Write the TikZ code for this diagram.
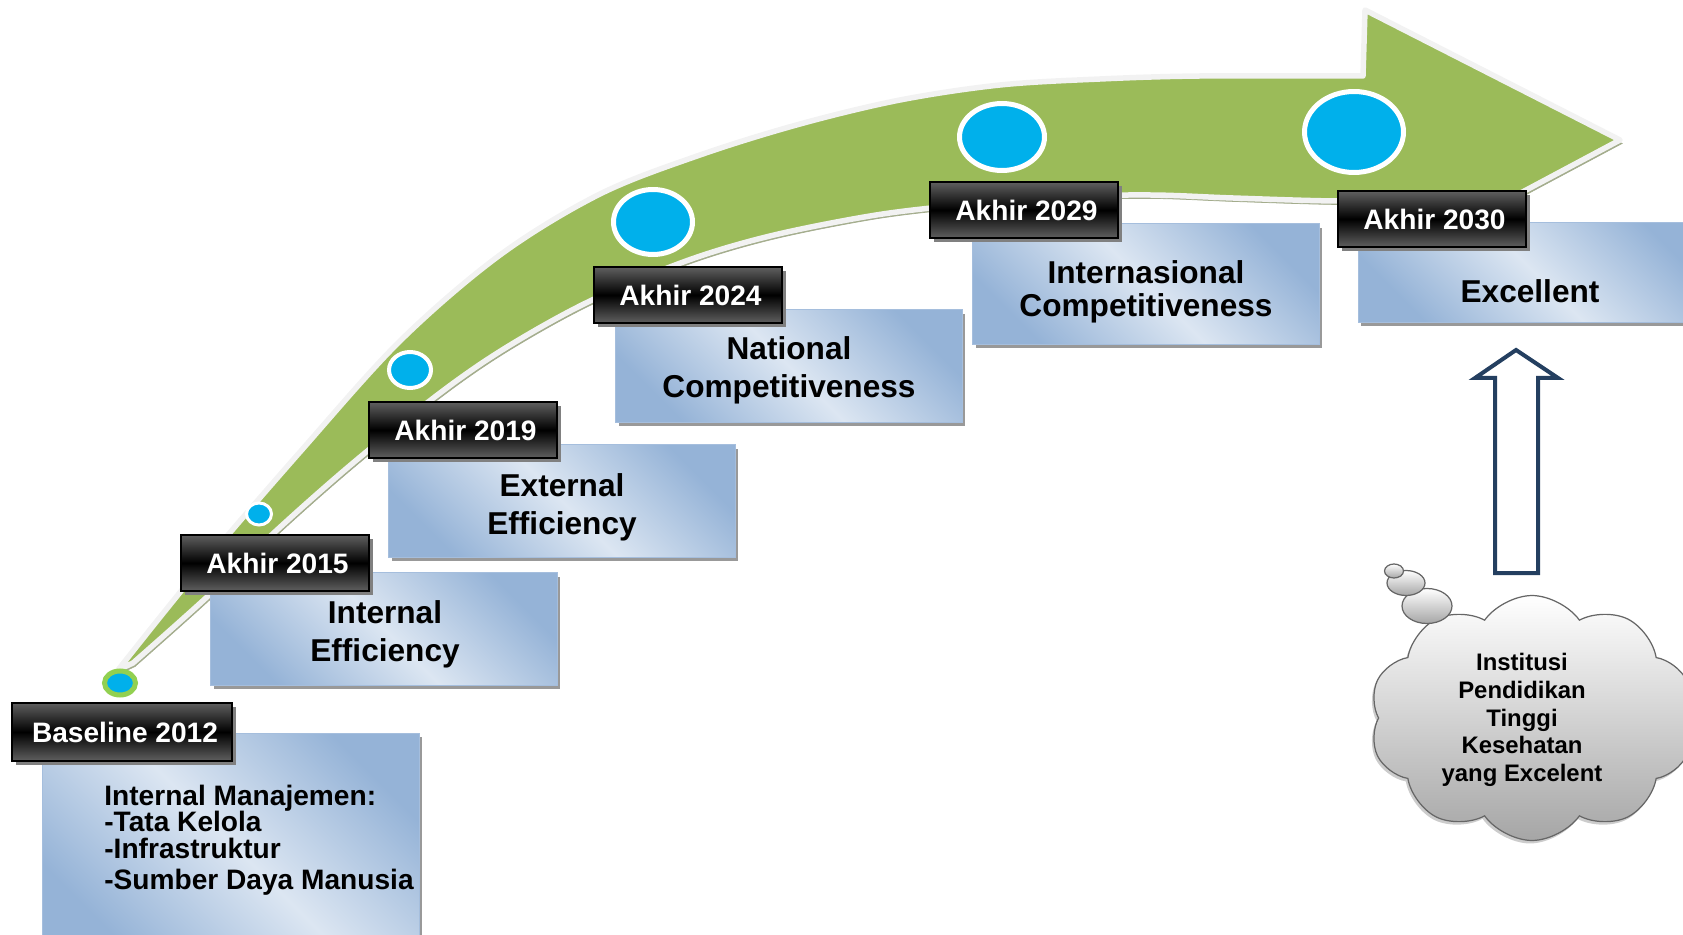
\documentclass[tikz,border=0pt]{standalone}
\usepackage{fontspec}
\setmainfont{Liberation Sans}
\usetikzlibrary{arrows.meta, positioning, shapes.geometric, shapes.symbols, shadows}

\definecolor{arrowgreen}{HTML}{9BBB59}
\definecolor{arrowrim}{HTML}{F2F2F2}
\definecolor{arrowshade}{HTML}{A3AC8C}
\definecolor{dotblue}{HTML}{00B0EB}
\definecolor{dotgreen}{HTML}{92D050}
\definecolor{boxblue}{HTML}{95B3D7}
\definecolor{boxlight}{HTML}{DCE6F2}
\definecolor{navyline}{HTML}{243F60}

\begin{document}
\begin{tikzpicture}
    [
        x=0.02cm, y=-0.02cm,
        bigarrow/.style = {
            fill=arrowgreen, draw=arrowrim, line width=0.11cm, line join=round,
            preaction={fill=arrowshade, draw=arrowshade, transform canvas={shift={(0.04cm,-0.07cm)}}}
        },
        milestone/.style = {
            ellipse, fill=dotblue, draw=white, line width=0.1cm, inner sep=0pt
        },
        yearlabel/.style = {
            rectangle, draw=black, line width=0.04cm, inner sep=0pt,
            top color=black!62, bottom color=black!62, middle color=black,
            text=white, font=\bfseries\fontsize{16}{18}\selectfont,
            minimum width=3.76cm, minimum height=1.14cm,
            drop shadow={shadow xshift=0.08cm, shadow yshift=-0.08cm, fill=black!50, opacity=1}
        },
        goalbox/.style = {
            rectangle, draw=boxblue!85!white, line width=0.4pt, inner sep=0pt,
            top color=boxblue, bottom color=boxblue, middle color=boxlight, shading angle=-45,
            minimum width=6.94cm, minimum height=2.26cm,
            drop shadow={shadow xshift=0.06cm, shadow yshift=-0.08cm, fill=black!40, opacity=1}
        },
        goaltext/.style = {
            font=\bfseries\fontsize{18}{21.5}\selectfont, align=center, inner sep=0pt
        },
        thoughtcloud/.style = {
            cloud, cloud puffs=10, cloud puff arc=110, cloud ignores aspect,
            draw=black!60, line width=0.7pt, top color=white, bottom color=black!35,
            drop shadow={shadow xshift=-0.04cm, shadow yshift=-0.06cm, fill=black!20, opacity=1}
        },
        bubble/.style = {
            ellipse, draw=black!60, line width=0.7pt, inner sep=0pt,
            top color=white, bottom color=black!35
        },
        upblock/.style = {
            draw=navyline, line width=0.08cm, fill=white, line join=miter
        },
    ]
    \clip (0,0) rectangle (1683,935);
    %\draw[help lines] (0,0) grid (1683,935);

    % curved arrow
    \filldraw[bigarrow] (118,670)
        -- plot[smooth, tension=0.55] coordinates {(118,670) (200,568) (300,452) (400,341) (500,255) (600,194) (700,155) (800,124) (900,100) (1000,85) (1100,79) (1200,76) (1363,76)}
        -- (1365,10) -- (1620,140) -- (1515,196)
        -- plot[smooth, tension=0.55] coordinates {(1515,196) (1440,200) (1337,201) (1233,198) (1150,195) (1050,197) (950,206) (870,216) (770,236) (686,261) (590,301) (507,347) (440,393) (353,463) (277,530) (207,597) (133,663)}
        -- cycle;

    \node[milestone, draw=dotgreen, minimum width=0.62cm, minimum height=0.48cm] (dot2012) at (120,683) {};
    \node[milestone, line width=0.06cm, minimum width=0.5cm, minimum height=0.44cm] (dot2015) at (259,514) {};
    \node[milestone, line width=0.08cm, minimum width=0.84cm, minimum height=0.72cm] (dot2019) at (410,370) {};
    \node[milestone, minimum width=1.58cm, minimum height=1.3cm] (dot2024) at (653,222) {};
    \node[milestone, minimum width=1.7cm, minimum height=1.34cm] (dot2029) at (1002,137) {};
    \node[milestone, minimum width=1.98cm, minimum height=1.62cm] (dot2030) at (1354,132) {};

    % targets
    \node[goalbox, minimum width=7.54cm, minimum height=4.4cm] (goal2012) at (231,843) {};
    \node[goalbox] (goal2015) at (384,629) {};
    \node[goalbox] (goal2019) at (562,501) {};
    \node[goalbox] (goal2024) at (789,366) {};
    \node[goalbox, minimum height=2.42cm] (goal2029) at (1146,284) {};
    \node[goalbox, minimum width=7.04cm, minimum height=2cm] (goal2030) at (1534,272) {};
    \node[goaltext] (text2015) at (385,634) {Internal\\Efficiency};
    \node[goaltext] (text2019) at (562,507) {External\\Efficiency};
    \node[goaltext] (text2024) at (789,370) {National\\Competitiveness};
    \node[goaltext, font=\bfseries\fontsize{18}{18.5}\selectfont] (text2029) at (1146,292) {Internasional\\Competitiveness};
    \node[goaltext] (text2030) at (1530,291) {Excellent};
    \node[anchor=west, align=left, inner sep=0pt, font=\bfseries\fontsize{16}{15}\selectfont] (text2012) at (104,840)
        {Internal Manajemen:\\-Tata Kelola\\-Infrastruktur\\[2.5pt]-Sumber Daya Manusia};

    % years
    \node[yearlabel, minimum width=4.42cm, minimum height=1.18cm] (tag2012) at (122,732) {\hspace{0.12cm}Baseline 2012};
    \node[yearlabel] (tag2015) at (275,563) {\hspace{0.1cm}Akhir 2015};
    \node[yearlabel] (tag2019) at (463,430) {\hspace{0.1cm}Akhir 2019};
    \node[yearlabel] (tag2024) at (688,295) {\hspace{0.1cm}Akhir 2024};
    \node[yearlabel] (tag2029) at (1024,210) {\hspace{0.1cm}Akhir 2029};
    \node[yearlabel] (tag2030) at (1432,219) {\hspace{0.1cm}Akhir 2030};

    % thought cloud
    \node[thoughtcloud, minimum width=6.5cm, minimum height=4.9cm] (idea) at (1532,718) {};
    \node[bubble, minimum width=1cm, minimum height=0.7cm] (bubble3) at (1427,606) {};
    \node[bubble, minimum width=0.76cm, minimum height=0.5cm] (bubble2) at (1406,583) {};
    \node[bubble, minimum width=0.38cm, minimum height=0.28cm] (bubble1) at (1394,571) {};
    \node[align=center, font=\bfseries\fontsize{13.6}{15.8}\selectfont] (ideatext) at (1522,720)
        {Institusi\\Pendidikan\\Tinggi\\Kesehatan\\yang Excelent};

    \draw[upblock] (1495,573) -- (1495,378) -- (1475,378) -- (1516,350) -- (1558,378) -- (1538,378) -- (1538,573) -- cycle;
\end{tikzpicture}
\end{document}
